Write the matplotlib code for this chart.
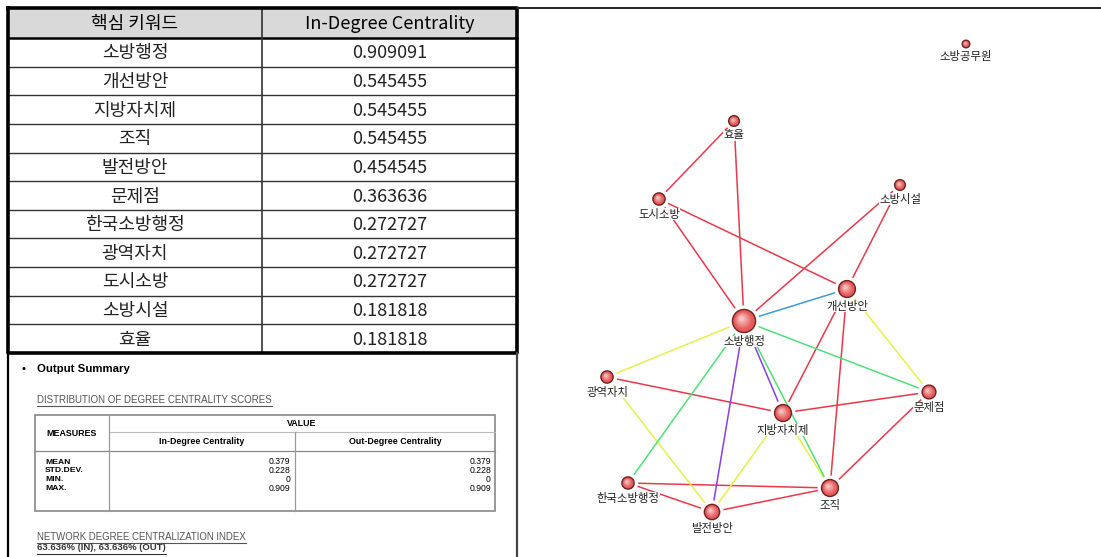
import matplotlib
matplotlib.use("Agg")
import matplotlib.pyplot as plt
from matplotlib.patches import Rectangle, Circle
from matplotlib.colors import to_rgb

plt.rcParams['font.family'] = ['Noto Sans CJK KR', 'DejaVu Sans']

# keyword table
keywords = ["소방행정", "개선방안", "지방자치제", "조직", "발전방안", "문제점",
            "한국소방행정", "광역자치", "도시소방", "소방시설", "효율"]
in_degree = [0.909091, 0.545455, 0.545455, 0.545455, 0.454545, 0.363636,
             0.272727, 0.272727, 0.272727, 0.181818, 0.181818]

# output summary
measures = ["MEAN", "STD.DEV.", "MIN.", "MAX."]
in_values = ["0.379", "0.228", "0", "0.909"]
out_values = ["0.379", "0.228", "0", "0.909"]
centralization = "63.636% (IN), 63.636% (OUT)"

# sociogram layout (pixel positions)
node_names = ["소방행정", "개선방안", "지방자치제", "조직", "발전방안", "문제점",
              "한국소방행정", "광역자치", "도시소방", "소방시설", "효율", "소방공무원"]
node_x = [744, 847, 783, 830, 712, 929, 628, 607, 659, 900, 734, 966]
node_y = [321, 289, 413, 488, 512, 392, 483, 377, 199, 185, 121, 44]

edges_red = [("효율", "도시소방"), ("효율", "소방행정"), ("도시소방", "소방행정"),
             ("도시소방", "개선방안"), ("소방시설", "소방행정"), ("소방시설", "개선방안"),
             ("개선방안", "지방자치제"), ("개선방안", "조직"), ("광역자치", "지방자치제"),
             ("지방자치제", "문제점"), ("문제점", "조직"), ("한국소방행정", "조직"),
             ("한국소방행정", "발전방안"), ("발전방안", "조직")]
edges_yellow = [("소방행정", "광역자치"), ("개선방안", "문제점"), ("광역자치", "발전방안"),
                ("지방자치제", "발전방안"), ("지방자치제", "조직")]
edges_green = [("소방행정", "문제점"), ("소방행정", "한국소방행정"), ("소방행정", "조직")]
edges_purple = [("소방행정", "발전방안"), ("소방행정", "지방자치제")]
edges_blue = [("소방행정", "개선방안")]

W, H = 1101, 557
fig = plt.figure(figsize=(W / 100, H / 100), dpi=100)
ax = fig.add_axes([0, 0, 1, 1])
ax.set_xlim(0, W)
ax.set_ylim(H, 0)
ax.axis("off")

# ---- keyword table ----
left, mid, right = 8, 262, 517
top, head_bot = 8, 38
row_h = 28.64
bottom = head_bot + row_h * len(keywords)

ax.add_patch(Rectangle((left, top), right - left, head_bot - top, facecolor="#d9d9d9", edgecolor="none"))
ax.text((left + mid) / 2, (top + head_bot) / 2 + 1, "핵심 키워드", ha="center", va="center",
        fontsize=13, fontweight="medium")
ax.text((mid + right) / 2, (top + head_bot) / 2 + 1, "In-Degree Centrality", ha="center", va="center",
        fontsize=13, fontweight="medium")

for i, (k, v) in enumerate(zip(keywords, in_degree)):
    yc = head_bot + row_h * (i + 0.5) + 1
    ax.text((left + mid) / 2, yc, k, ha="center", va="center", fontsize=13, color="#222")
    ax.text((mid + right) / 2, yc, f"{v:.6f}", ha="center", va="center", fontsize=13, color="#222")
    if i > 0:
        y = head_bot + row_h * i
        ax.plot([left, right], [y, y], color="#333", lw=1)

ax.plot([left, right], [head_bot, head_bot], color="black", lw=1.8)
ax.plot([mid, mid], [top, bottom], color="#333", lw=1.2)
ax.plot([left, right, right, left, left], [top, top, bottom, bottom, top], color="black", lw=2.6)

# frame of the left panel and top rule of the right panel
ax.plot([left, left], [bottom, H], color="black", lw=1.6)
ax.plot([right, right], [bottom, H], color="#444", lw=1.6)
ax.plot([right, W], [top, top], color="#222", lw=1.4)

# ---- output summary ----
sans = ['Liberation Sans', 'DejaVu Sans']


def underline(t, color):
    fig.canvas.draw()
    bb = t.get_window_extent().transformed(ax.transData.inverted())
    ax.plot([bb.x0, bb.x1], [bb.y0 + 1, bb.y0 + 1], color=color, lw=0.8)


ax.text(22, 369, "•", ha="left", va="center", fontsize=8, family=sans)
ax.text(37, 369, "Output Summary", ha="left", va="center", fontsize=8.2, fontweight="bold", family=sans)
t1 = ax.text(37, 400, "DISTRIBUTION OF DEGREE CENTRALITY SCORES", ha="left", va="center",
             fontsize=7.0, color="#555", family=sans)
underline(t1, "#555")

tl, tr, tt, tb = 35, 495, 415, 511
c1, c2 = 109, 295
ax.add_patch(Rectangle((tl, tt), tr - tl, tb - tt, facecolor="white", edgecolor="#888", lw=1.2))
ax.plot([c1, tr], [432, 432], color="#bbb", lw=0.8)
ax.plot([tl, tr], [451, 451], color="#888", lw=0.9)
ax.plot([c1, c1], [tt, tb], color="#999", lw=0.9)
ax.plot([c2, c2], [432, tb], color="#999", lw=0.9)
ax.text((tl + c1) / 2, 433, "MEASURES", ha="center", va="center", fontsize=6.4, fontweight="bold", family=sans)
ax.text((c1 + tr) / 2, 423, "VALUE", ha="center", va="center", fontsize=6.4, fontweight="bold", family=sans)
ax.text((c1 + c2) / 2, 442, "In-Degree Centrality", ha="center", va="center", fontsize=6.4, fontweight="bold", family=sans)
ax.text((c2 + tr) / 2, 442, "Out-Degree Centrality", ha="center", va="center", fontsize=6.4, fontweight="bold", family=sans)
for i, (m, a, b) in enumerate(zip(measures, in_values, out_values)):
    y = 462 + 8.7 * i
    ax.text(45, y, m, ha="left", va="center", fontsize=6.1, fontweight="bold", family=sans)
    ax.text(c2 - 5, y, a, ha="right", va="center", fontsize=6.2, family=sans)
    ax.text(tr - 4, y, b, ha="right", va="center", fontsize=6.2, family=sans)

t2 = ax.text(37, 537, "NETWORK DEGREE CENTRALIZATION INDEX", ha="left", va="center",
             fontsize=6.9, color="#555", family=sans)
underline(t2, "#555")
t3 = ax.text(37, 548, centralization, ha="left", va="center", fontsize=6.8,
             fontweight="bold", color="#333", family=sans)
underline(t3, "#333")

# ---- sociogram ----
cent = dict(zip(keywords, in_degree))
pos = {n: (x, y) for n, x, y in zip(node_names, node_x, node_y)}
rad = {n: 3.8 + 8.5 * cent.get(n, 0.0) for n in node_names}


def draw_edges(edges, color):
    for a, b in edges:
        (x0, y0), (x1, y1) = pos[a], pos[b]
        d = ((x1 - x0) ** 2 + (y1 - y0) ** 2) ** 0.5
        ux, uy = (x1 - x0) / d, (y1 - y0) / d
        g0, g1 = rad[a] + 4, rad[b] + 4
        ax.plot([x0 + ux * g0, x1 - ux * g1], [y0 + uy * g0, y1 - uy * g1],
                color=color, lw=1.1, solid_capstyle="butt", zorder=2)


draw_edges(edges_red, "#e8394b")
draw_edges(edges_yellow, "#e6f04a")
draw_edges(edges_green, "#4fe07a")
draw_edges(edges_purple, "#8a3ee6")
draw_edges(edges_blue, "#3a9be0")

dark, light = to_rgb("#e04a4a"), to_rgb("#ffd6d6")
for n in node_names:
    x, y = pos[n]
    r = rad[n]
    ax.add_patch(Circle((x, y), r, facecolor="#e85656", edgecolor="#6e2222", lw=1, zorder=4))
    steps = 6
    for k in range(1, steps):
        f = k / steps
        col = tuple(d + (l - d) * f for d, l in zip(dark, light))
        ax.add_patch(Circle((x - r * 0.25 * f, y - r * 0.25 * f), r * (1 - f * 0.85) - 0.6,
                            facecolor=col, edgecolor="none", zorder=4))
    ax.text(x, y + r + 9, n, ha="center", va="center", fontsize=8.2, color="#222", zorder=5,
            bbox=dict(facecolor="white", edgecolor="none", pad=0.3, alpha=0.9))

fig.savefig("out.png", dpi=100)
